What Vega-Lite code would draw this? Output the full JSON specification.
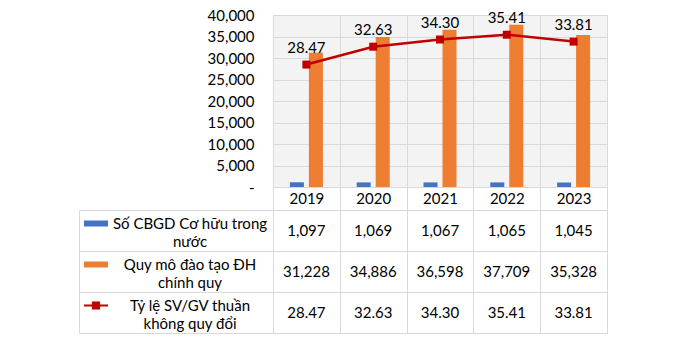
{
  "$schema": "https://vega.github.io/schema/vega-lite/v6.json",
  "padding": {"left": 78, "top": 8, "right": 0, "bottom": 0},
  "background": "white",
  "config": {
    "view": {"stroke": null},
    "font": "Lato",
    "axis": {"labelFont": "Lato", "labelFontSize": 15, "labelColor": "#000000", "gridColor": "#d9d9d9", "tickColor": "#d9d9d9", "title": null},
    "text": {"font": "Lato", "fontSize": 15, "color": "#000000"}
  },
  "datasets": {
    "main": [
      {"year": "2019", "cbgd": 1097, "quymo": 31228, "tyle": 28.47},
      {"year": "2020", "cbgd": 1069, "quymo": 34886, "tyle": 32.63},
      {"year": "2021", "cbgd": 1067, "quymo": 36598, "tyle": 34.30},
      {"year": "2022", "cbgd": 1065, "quymo": 37709, "tyle": 35.41},
      {"year": "2023", "cbgd": 1045, "quymo": 35328, "tyle": 33.81}
    ],
    "rows": [
      {"series": "cbgd", "lines": ["Số CBGD Cơ hữu trong", "nước"]},
      {"series": "quymo", "lines": ["Quy mô đào tạo ĐH", "chính quy"]},
      {"series": "tyle", "lines": ["Tỷ lệ SV/GV thuần", "không quy đổi"]}
    ]
  },
  "columns": 2,
  "bounds": "flush",
  "align": "each",
  "spacing": {"row": 23, "column": 0},
  "resolve": {"scale": {"color": "independent", "shape": "independent"}},
  "concat": [
    {
      "width": 194,
      "height": 172,
      "data": {"values": [{"a": 1}]},
      "mark": {"type": "point", "opacity": 0},
      "encoding": {}
    },
    {
      "width": 334,
      "height": 172,
      "data": {"name": "main"},
      "view": {"fill": "#f3f3f3", "stroke": null},
      "encoding": {
        "x": {
          "field": "year", "type": "nominal",
          "scale": {"paddingInner": 0, "paddingOuter": 0},
          "axis": {"orient": "bottom", "labelAngle": 0, "tickBand": "extent", "grid": true, "ticks": true, "tickSize": 23, "domain": false, "labelPadding": -19}
        }
      },
      "layer": [
        {
          "transform": [{"fold": ["cbgd", "quymo"], "as": ["series", "value"]}],
          "mark": {"type": "bar"},
          "encoding": {
            "xOffset": {"field": "series", "type": "nominal", "scale": {"domain": ["cbgd", "quymo"], "paddingInner": 0.263, "paddingOuter": 0.89}},
            "y": {
              "field": "value", "type": "quantitative",
              "scale": {"domain": [0, 40000], "nice": false},
              "axis": {"orient": "left", "values": [0, 5000, 10000, 15000, 20000, 25000, 30000, 35000, 40000], "labelExpr": "datum.value == 0 ? '-\u2002\u00a0' : format(datum.value, ',')", "grid": true, "ticks": false, "domain": false, "labelPadding": 19}
            },
            "color": {"field": "series", "type": "nominal", "scale": {"domain": ["cbgd", "quymo", "tyle"], "range": ["#4472C4", "#ED7D31", "#C00000"]}, "legend": null}
          }
        },
        {
          "encoding": {
            "y": {"field": "tyle", "type": "quantitative", "scale": {"domain": [0, 40], "nice": false}, "axis": null}
          },
          "layer": [
            {
              "mark": {"type": "line", "color": "#C00000", "strokeWidth": 2.5},
              "encoding": {
                "y": {"field": "tyle", "type": "quantitative", "axis": {"orient": "right", "values": [0, 5, 10, 15, 20, 25, 30, 35, 40], "labelExpr": "datum.value == 0 ? '-' : format(datum.value, 'd')", "grid": false, "ticks": false, "domain": false, "labelPadding": 19}}
              }
            },
            {
              "mark": {"type": "point", "shape": "square", "filled": true, "color": "#C00000", "size": 64, "opacity": 1}
            },
            {
              "mark": {"type": "text", "dy": -17, "fontSize": 15},
              "encoding": {"text": {"field": "tyle", "type": "quantitative", "format": ".2f"}}
            }
          ]
        }
      ],
      "resolve": {"scale": {"y": "independent"}}
    },
    {
      "width": 194,
      "height": 123,
      "data": {"name": "rows"},
      "view": {"stroke": "#d9d9d9"},
      "encoding": {
        "y": {
          "field": "series", "type": "nominal",
          "scale": {"domain": ["cbgd", "quymo", "tyle"], "paddingInner": 0, "paddingOuter": 0},
          "axis": {"grid": true, "tickBand": "extent", "labels": false, "ticks": false, "domain": false}
        }
      },
      "layer": [
        {
          "mark": {"type": "text", "fontSize": 15, "lineHeight": 18, "dx": 14, "dy": -7},
          "encoding": {"text": {"field": "lines"}}
        },
        {
          "mark": {"type": "point", "filled": true, "opacity": 1, "size": 576, "strokeWidth": 0, "xOffset": -80, "yOffset": -7},
          "encoding": {
            "shape": {"field": "series", "type": "nominal", "scale": {"domain": ["cbgd", "quymo", "tyle"], "range": ["M-1,-0.25H1V0.25H-1Z", "M-1,-0.25H1V0.25H-1Z", "M-1,-0.09H1V0.09H-1Z M-0.34,-0.34H0.34V0.34H-0.34Z"]}, "legend": null},
            "color": {"field": "series", "type": "nominal", "scale": {"domain": ["cbgd", "quymo", "tyle"], "range": ["#4472C4", "#ED7D31", "#C00000"]}, "legend": null}
          }
        }
      ]
    },
    {
      "width": 334,
      "height": 123,
      "data": {"name": "main"},
      "view": {"stroke": "#d9d9d9"},
      "transform": [{"fold": ["cbgd", "quymo", "tyle"], "as": ["series", "value"]}],
      "encoding": {
        "x": {
          "field": "year", "type": "nominal",
          "scale": {"paddingInner": 0, "paddingOuter": 0},
          "axis": {"grid": true, "tickBand": "extent", "labels": false, "ticks": false, "domain": false}
        },
        "y": {
          "field": "series", "type": "nominal",
          "scale": {"domain": ["cbgd", "quymo", "tyle"], "paddingInner": 0, "paddingOuter": 0},
          "axis": {"grid": true, "tickBand": "extent", "labels": false, "ticks": false, "domain": false}
        }
      },
      "layer": [
        {
          "transform": [{"filter": "datum.series != 'tyle'"}],
          "mark": {"type": "text", "fontSize": 15},
          "encoding": {"text": {"field": "value", "type": "quantitative", "format": ","}}
        },
        {
          "transform": [{"filter": "datum.series == 'tyle'"}],
          "mark": {"type": "text", "fontSize": 15},
          "encoding": {"text": {"field": "value", "type": "quantitative", "format": ".2f"}}
        }
      ]
    }
  ]
}
